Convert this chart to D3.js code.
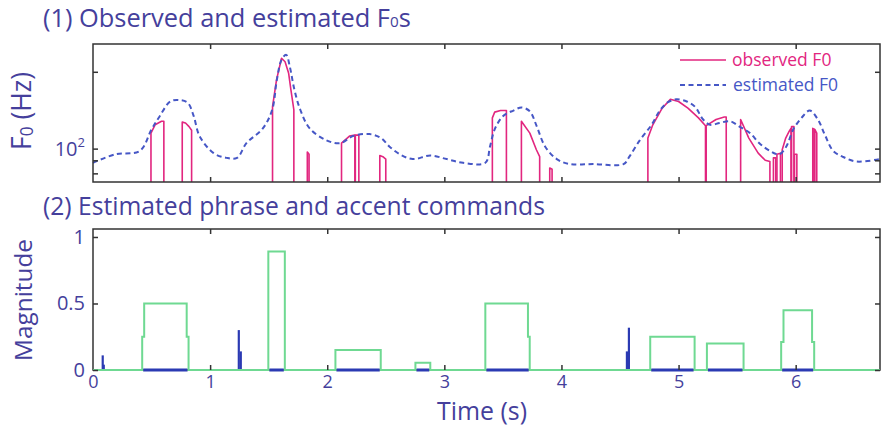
<!DOCTYPE html>
<html><head><meta charset="utf-8">
<script src="https://cdn.jsdelivr.net/npm/d3@7"></script>
<style>body{margin:0;background:#fff;} svg text{font-family:"Open Sans","Noto Sans",sans-serif;}</style>
</head><body><svg id="c" width="884" height="432"></svg>
<script>
// ---------- DATA ----------
const estTime = [0.00,0.19,0.40,0.50,0.57,0.66,0.74,0.81,0.86,0.91,1.03,1.14,1.23,1.31,1.45,1.53,1.57,1.61,1.65,1.68,1.72,1.77,1.85,1.99,2.11,2.22,2.36,2.46,2.53,2.62,2.73,2.88,3.02,3.16,3.35,3.39,3.43,3.50,3.59,3.66,3.73,3.79,3.86,3.96,4.07,4.27,4.53,4.58,4.67,4.77,4.84,4.91,4.98,5.07,5.14,5.21,5.27,5.35,5.44,5.52,5.61,5.69,5.78,5.86,5.92,5.98,6.05,6.12,6.19,6.25,6.32,6.40,6.52,6.72];
const estF0 = [88,95,98,119,134,153,155,151,134,112,96,92,92,105,120,142,186,223,233,210,170,142,120,108,105,112,114,110,102,95,91,94,91,88,88,102,119,134,141,145,140,122,102,91,87,87,87,93,108,124,141,152,156,153,146,130,124,126,128,122,115,105,98,95,102,119,132,141,130,113,98,93,89,91];

// observed F0: voiced segments, each a list of [time (s), F0 (Hz)]
const obsSegments = [
  [[0.495,115],[0.53,124],[0.585,128],[0.605,128]],
  [[0.762,127],[0.79,126],[0.82,122],[0.842,118]],
  [[1.533,146],[1.567,186],[1.61,226],[1.64,219],[1.67,198],[1.69,170],[1.715,142]],
  [[1.83,97],[1.845,95]],
  [[2.122,105],[2.19,112],[2.236,113]],
  [[2.24,113],[2.27,113]],
  [[2.449,94],[2.475,93],[2.5,91]],
  [[3.41,132],[3.43,139],[3.48,141],[3.53,141]],
  [[3.658,128],[3.73,115],[3.786,99],[3.814,93]],
  [[3.90,84],[3.92,83]],
  [[4.738,110],[4.78,124],[4.86,144],[4.93,156],[5.0,153],[5.08,144],[5.17,132],[5.23,123]],
  [[5.236,123],[5.32,130],[5.39,133],[5.407,133]],
  [[5.53,130],[5.6,110],[5.68,96],[5.74,90],[5.78,89]],
  [[5.81,92],[5.83,92]],
  [[5.84,95],[5.87,96]],
  [[5.885,99],[5.915,110],[5.945,117],[5.96,120]],
  [[5.965,122],[5.985,122]],
  [[5.99,95],[6.01,95]],
  [[6.146,120],[6.16,119]],
  [[6.163,119],[6.18,115]]
];

// accent commands (step function breakpoints)
const accentTime = [0,0.42,0.437,0.80,0.816,1.497,1.638,2.07,2.457,2.753,2.88,3.35,3.714,3.729,4.758,5.137,5.242,5.555,5.876,5.896,6.14,6.158,6.72];
const accentAmp  = [0,0.25,0.5,0.25,0,0.89,0,0.15,0,0.055,0,0.5,0.25,0,0.25,0,0.2,0,0.21,0.45,0.21,0,0];

// phrase commands (impulses)
const phraseTime = [0.083,0.092,1.245,1.262,4.559,4.576];
const phraseAmp  = [0.11,0.04,0.30,0.14,0.14,0.318];

const timeTicks = [0,1,2,3,4,5,6];
const f0Ticks = [80,90,100,200];
const magTicks = [0,0.5,1];
const magTickLabels = ["0","0.5","1"];

// ---------- STYLE ----------
const textCol = "#453f9c";
const magenta = "#e2267f";
const estBlue = "#4657c6";
const phraseBlue = "#2b3ab3";
const green = "#6fd992";
const boxCol = "#333";

const svg = d3.select("#c");
const x = d3.scaleLinear().domain([0,6.72]).range([93,880]);
const yF = d3.scaleLog().domain([74,257]).range([182,44]);
const yM = d3.scaleLinear().domain([0,1.06]).range([370,229]);

function fit(sel, target){
  const w = sel.node().getComputedTextLength();
  const fs = parseFloat(sel.attr("font-size"));
  if (w > 0) sel.attr("font-size", fs*target/w);
}
function styleAxis(g){ g.select(".domain").remove(); g.selectAll(".tick line").attr("stroke",boxCol).attr("stroke-width",1.5); g.selectAll("text").remove(); }

// ---------- TOP PANEL ----------
const gTop = svg.append("g");
const fMin = yF.domain()[0];
const lineF = d3.line().x(d=>x(d[0])).y(d=>yF(d[1]));

obsSegments.forEach(seg=>{
  const pts = [[seg[0][0], fMin], ...seg, [seg[seg.length-1][0], fMin]];
  gTop.append("path").attr("d", lineF(pts)).attr("fill","none")
    .attr("stroke", magenta).attr("stroke-width",1.6).attr("stroke-linejoin","round");
});

const estPts = estTime.map((t,i)=>[t, estF0[i]]);
gTop.append("path").attr("d", d3.line().curve(d3.curveCatmullRom).x(d=>x(d[0])).y(d=>yF(d[1]))(estPts))
  .attr("fill","none").attr("stroke", estBlue).attr("stroke-width",2).attr("stroke-dasharray","5,3.5");

gTop.append("rect").attr("x",x.range()[0]).attr("y",44).attr("width",x.range()[1]-x.range()[0]).attr("height",182-44)
  .attr("fill","none").attr("stroke",boxCol).attr("stroke-width",1.5);
gTop.append("g").attr("transform","translate(0,182)").call(d3.axisBottom(x).tickValues(timeTicks.slice(1)).tickSize(-5)).call(styleAxis);
gTop.append("g").attr("transform","translate(0,44)").call(d3.axisTop(x).tickValues(timeTicks.slice(1)).tickSize(-5)).call(styleAxis);
gTop.append("g").attr("transform",`translate(${x.range()[0]},0)`).call(d3.axisLeft(yF).tickValues(f0Ticks).tickSize(-5)).call(styleAxis);
gTop.append("g").attr("transform",`translate(${x.range()[1]},0)`).call(d3.axisRight(yF).tickValues(f0Ticks).tickSize(-5)).call(styleAxis);

const lbl = gTop.append("text").attr("x",85).attr("y",yF(100)+7).attr("text-anchor","end")
  .attr("fill",textCol).attr("font-size",20);
lbl.append("tspan").text("10");
lbl.append("tspan").attr("font-size","0.65em").attr("dy",-9).text("2");

const yt = svg.append("text").attr("transform","translate(31,111) rotate(-90)").attr("text-anchor","middle")
  .attr("fill",textCol).attr("font-size",18);
yt.append("tspan").text("F");
yt.append("tspan").attr("font-size","0.65em").attr("dy",2).text("0");
yt.append("tspan").attr("dy",-2).text(" (Hz)");
fit(yt, 78);

svg.append("line").attr("x1",680).attr("x2",726).attr("y1",60).attr("y2",60).attr("stroke",magenta).attr("stroke-width",1.6);
svg.append("line").attr("x1",680).attr("x2",726).attr("y1",85).attr("y2",85).attr("stroke",estBlue).attr("stroke-width",2).attr("stroke-dasharray","5,3.5");
svg.append("text").attr("x",732).attr("y",65.5).attr("fill",magenta).attr("font-size",17.5).text("observed F0");
svg.append("text").attr("x",733).attr("y",90.5).attr("fill",estBlue).attr("font-size",17.5).text("estimated F0");

const t1 = svg.append("text").attr("x",43).attr("y",27).attr("fill",textCol).attr("font-size",22);
t1.append("tspan").text("(1) Observed and estimated F");
t1.append("tspan").attr("font-size","0.6em").text("0");
t1.append("tspan").text("s");
fit(t1, 368);

// ---------- BOTTOM PANEL ----------
const gBot = svg.append("g");
gBot.append("rect").attr("x",x.range()[0]).attr("y",229).attr("width",x.range()[1]-x.range()[0]).attr("height",370-229)
  .attr("fill","none").attr("stroke",boxCol).attr("stroke-width",1.5);

const accPts = accentTime.map((t,i)=>[t, accentAmp[i]]);
let runStart = null;
for(let i=0;i<accPts.length;i++){
  const v = accPts[i][1];
  if(v>0 && runStart===null) runStart = accPts[i][0];
  if(v===0 && runStart!==null){
    gBot.append("line").attr("x1",x(runStart)+1).attr("x2",x(accPts[i][0])-1).attr("y1",yM(0)).attr("y2",yM(0))
      .attr("stroke",phraseBlue).attr("stroke-width",3);
    runStart = null;
  }
}
phraseTime.forEach((t,i)=>{
  gBot.append("line").attr("x1",x(t)).attr("x2",x(t)).attr("y1",yM(0)).attr("y2",yM(phraseAmp[i]))
    .attr("stroke",phraseBlue).attr("stroke-width",2.2);
});
gBot.append("path").attr("d", d3.line().curve(d3.curveStepAfter).x(d=>x(d[0])).y(d=>yM(d[1]))(accPts))
  .attr("fill","none").attr("stroke",green).attr("stroke-width",2);

gBot.append("g").attr("transform","translate(0,229)").call(d3.axisTop(x).tickValues(timeTicks.slice(1)).tickSize(-5)).call(styleAxis);
const xb = gBot.append("g").attr("transform","translate(0,370)").call(d3.axisBottom(x).tickValues(timeTicks).tickSize(-5).tickPadding(5).tickFormat(d3.format("d")));
xb.select(".domain").remove();
xb.selectAll(".tick line").attr("stroke",boxCol).attr("stroke-width",1.5).filter(d=>d===0).remove();
xb.selectAll("text").attr("fill",textCol).attr("font-size",18).attr("font-family","'Open Sans',sans-serif");
const yl = gBot.append("g").attr("transform",`translate(${x.range()[0]},0)`).call(d3.axisLeft(yM).tickValues(magTicks).tickSize(-5).tickPadding(8).tickFormat((d,i)=>magTickLabels[i]));
yl.select(".domain").remove();
yl.selectAll(".tick line").attr("stroke",boxCol).attr("stroke-width",1.5);
yl.selectAll("text").attr("fill",textCol).attr("font-size",20).attr("font-family","'Open Sans',sans-serif");
gBot.append("g").attr("transform",`translate(${x.range()[1]},0)`).call(d3.axisRight(yM).tickValues(magTicks).tickSize(-5)).call(styleAxis);

const mt = svg.append("text").attr("transform","translate(32,300) rotate(-90)").attr("text-anchor","middle")
  .attr("fill",textCol).attr("font-size",20).text("Magnitude");
fit(mt,122);
const xt = svg.append("text").attr("x",482).attr("y",420).attr("text-anchor","middle")
  .attr("fill",textCol).attr("font-size",20).text("Time (s)");
fit(xt,90);

const t2 = svg.append("text").attr("x",43).attr("y",215).attr("fill",textCol).attr("font-size",22)
  .text("(2) Estimated phrase and accent commands");
fit(t2, 502);
</script></body></html>
